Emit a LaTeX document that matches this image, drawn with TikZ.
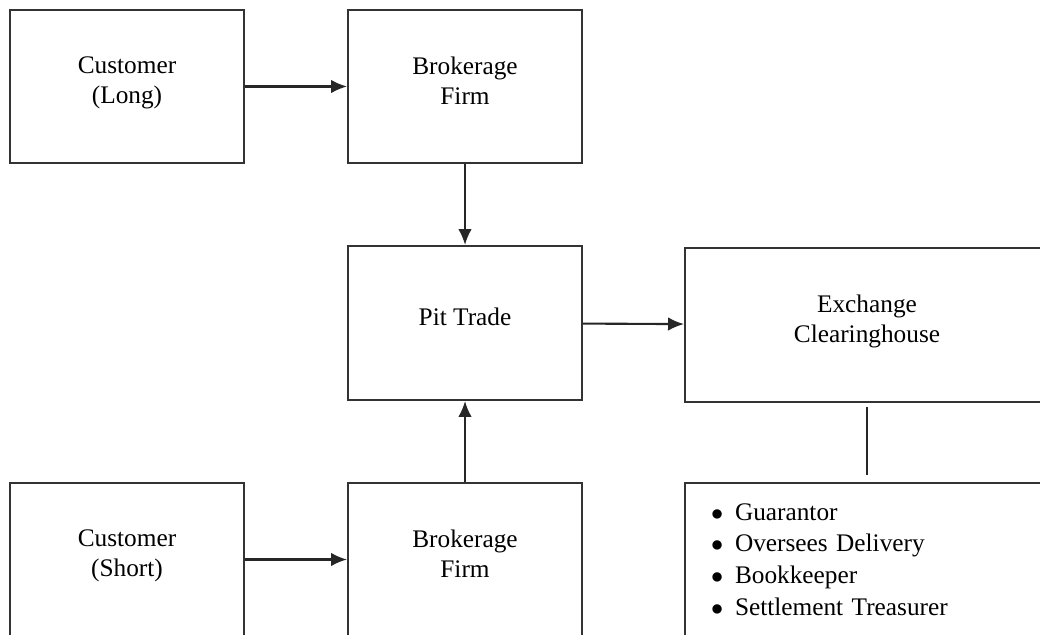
\documentclass[tikz,border=0pt]{standalone}
\usepackage{fontspec}
\setmainfont{Liberation Serif}
\usetikzlibrary{arrows.meta}

\begin{document}
\begin{tikzpicture}[>={Latex[length=4mm,width=3.4mm]},
		every node/.style={font=\fontsize{18}{21.5}\selectfont},
		party/.style={draw=black!80, line width=1.4pt, align=center,
				minimum width=5.85cm, minimum height=3.825cm},
		house/.style={party, minimum width=9.1cm, minimum height=3.85cm},
		flow/.style={->, line width=1.5pt, black!85}]
	\useasboundingbox (0,0) rectangle (26,15.875);
	\clip (0,0) rectangle (26,15.875);

	\node [party] (custL) at (3.175, 13.7125) {Customer\\(Long)\\[-0.45cm]};
	\node [party] (brokL) at (11.625, 13.7125) {Brokerage\\Firm\\[-0.45cm]};

	\node [party, minimum height=3.85cm] (pit) at (11.625, 7.8) {Pit Trade\\[-0.45cm]};
	\node [house] (clear) at (21.675, 7.75) {Exchange\\Clearinghouse\\[-0.45cm]};

	\node [party] (custS) at (3.175, 1.8875) {Customer\\(Short)\\[-0.45cm]};
	\node [party] (brokS) at (11.625, 1.8875) {Brokerage\\Firm\\[-0.45cm]};

	\node [house, minimum height=3.825cm, text width=7.8cm, inner xsep=0.65cm,
		align=left, font=\fontsize{18}{22.5}\selectfont] (duties) at (21.675, 1.8875)
	{\makebox[0.6cm][l]{$\bullet$}Guarantor\\
		\makebox[0.6cm][l]{$\bullet$}Oversees Delivery\\
		\makebox[0.6cm][l]{$\bullet$}Bookkeeper\\
		\makebox[0.6cm][l]{$\bullet$}Settlement Treasurer};

	\draw[flow] (custL) -- (brokL);
	\draw[flow] (brokL) -- (pit);
	\draw[flow] (custS) -- (brokS);
	\draw[flow] (brokS) -- (pit);
	\draw[flow] (pit) -- (clear);

	\draw[line width=1.4pt, black!85, shorten <=0.1cm, shorten >=0.18cm]
	(clear) -- (duties);
\end{tikzpicture}
\end{document}
